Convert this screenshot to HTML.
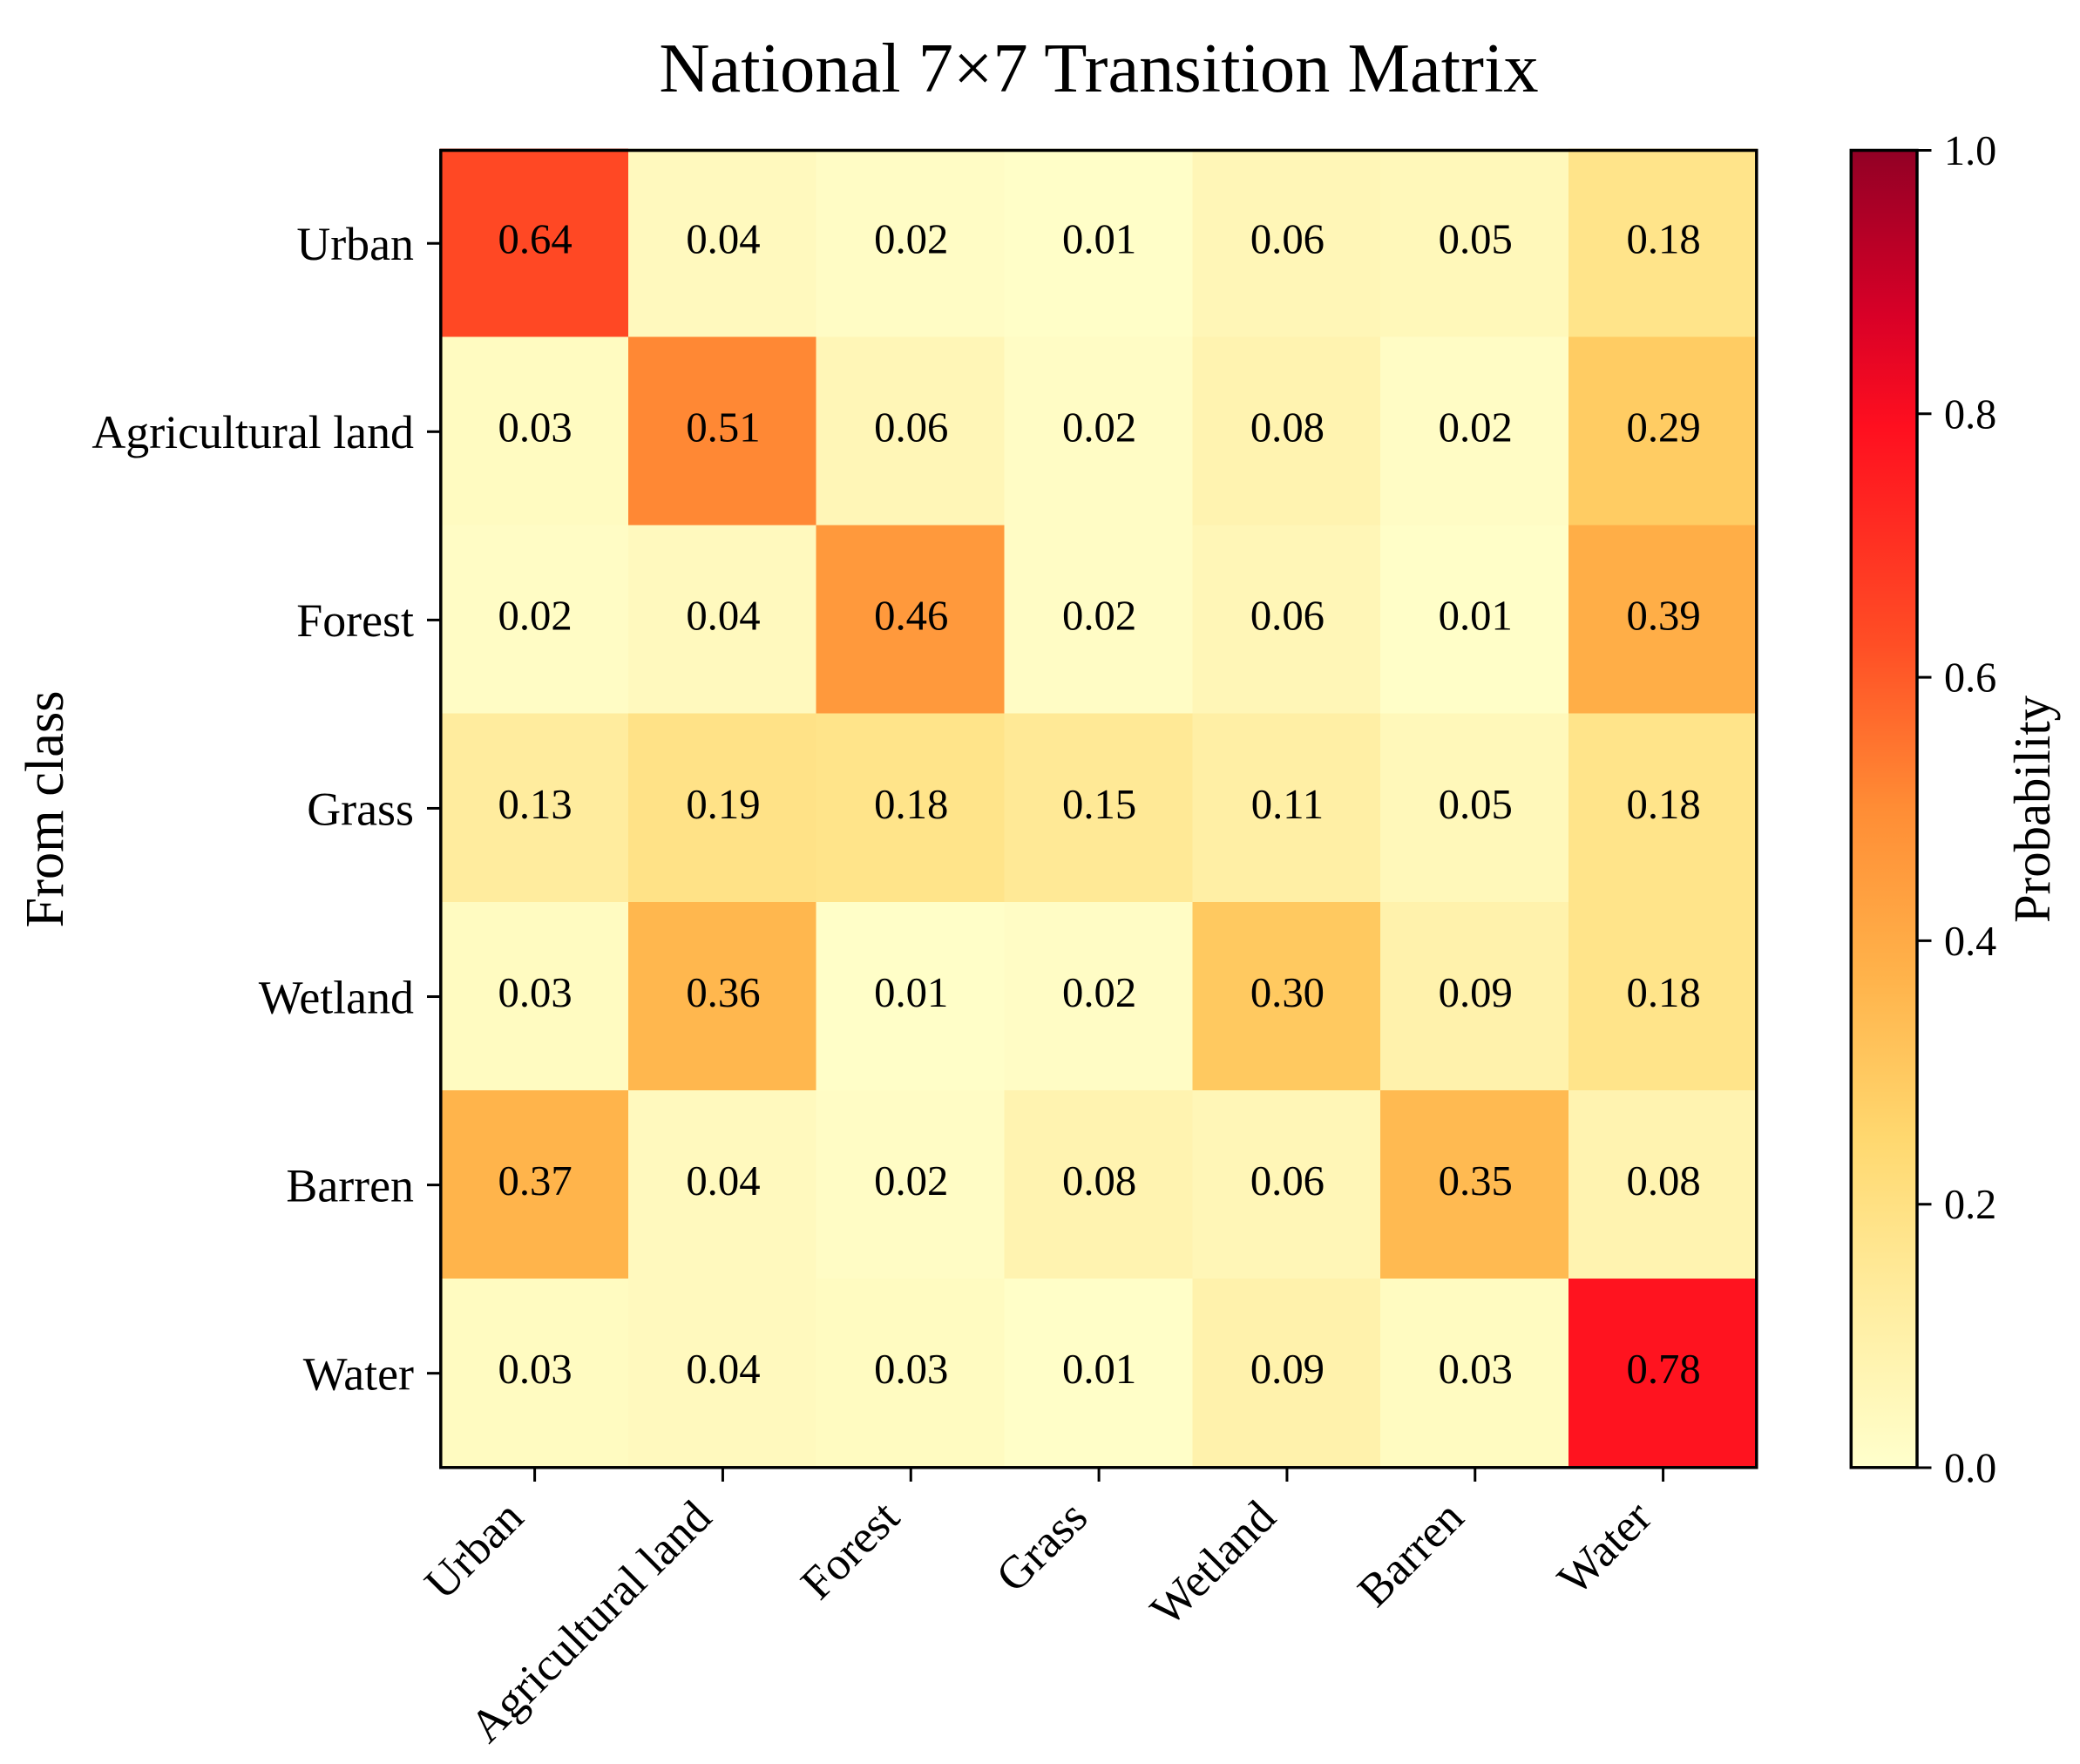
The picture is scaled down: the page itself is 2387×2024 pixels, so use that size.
<!DOCTYPE html>
<html lang="en">
<head>
<meta charset="utf-8">
<title>National 7×7 Transition Matrix</title>
<style>
  html, body { margin: 0; padding: 0; background: #ffffff; }
  svg { display: block; }
  text { font-family: "Liberation Serif", "Times New Roman", serif; fill: #000000; }
</style>
</head>
<body>
<svg id="chart" xmlns="http://www.w3.org/2000/svg" width="2387" height="2024" viewBox="0 0 2387 2024">
  <rect x="0" y="0" width="2387" height="2024" fill="#ffffff"/>
  <text x="1261" y="105" font-size="80.5" text-anchor="middle">National 7×7 Transition Matrix</text>
  <text transform="translate(72,928.5) rotate(-90)" font-size="62" text-anchor="middle" textLength="272" lengthAdjust="spacingAndGlyphs">From class</text>
  <text transform="translate(2352,928.5) rotate(-90)" font-size="59" text-anchor="middle" textLength="261" lengthAdjust="spacingAndGlyphs">Probability</text>
  <defs>
    <linearGradient id="colorbar-gradient" x1="0" y1="1" x2="0" y2="0"></linearGradient>
  </defs>
  <g id="heatmap"></g>
  <g id="cell-labels"></g>
  <rect x="505.8" y="172.5" width="1510" height="1511.3" fill="none" stroke="#000000" stroke-width="3.5"/>
  <g id="x-axis"></g>
  <g id="y-axis"></g>
  <rect id="colorbar-fill" x="2124.3" y="172.5" width="75.7" height="1511.3" fill="url(#colorbar-gradient)" stroke="#000000" stroke-width="3.5"/>
  <g id="colorbar-axis"></g>
</svg>
<script>
const classes = ["Urban", "Agricultural land", "Forest", "Grass", "Wetland", "Barren", "Water"];
const rowUrban = [0.64, 0.04, 0.02, 0.01, 0.06, 0.05, 0.18];
const rowAgricultural = [0.03, 0.51, 0.06, 0.02, 0.08, 0.02, 0.29];
const rowForest = [0.02, 0.04, 0.46, 0.02, 0.06, 0.01, 0.39];
const rowGrass = [0.13, 0.19, 0.18, 0.15, 0.11, 0.05, 0.18];
const rowWetland = [0.03, 0.36, 0.01, 0.02, 0.30, 0.09, 0.18];
const rowBarren = [0.37, 0.04, 0.02, 0.08, 0.06, 0.35, 0.08];
const rowWater = [0.03, 0.04, 0.03, 0.01, 0.09, 0.03, 0.78];
const matrix = [rowUrban, rowAgricultural, rowForest, rowGrass, rowWetland, rowBarren, rowWater];
const colorbarTicks = [0.0, 0.2, 0.4, 0.6, 0.8, 1.0];
const colormapStops = [0, 0.125, 0.25, 0.375, 0.5, 0.625, 0.79, 0.875, 1];
const colormapColors = ["#ffffcc", "#ffeda0", "#ffd86f", "#ffb24a", "#ff8d35", "#ff4e25", "#ff0f1f", "#d80027", "#920025"];

const SVG_NS = "http://www.w3.org/2000/svg";
const plot = { left: 505, right: 2015.8, top: 170.5, bottom: 1683 };
const bar = { right: 2200, tickEnd: 2216.5, labelX: 2231, top: 172.5, bottom: 1684 };
const TICK_LEN = 16;

const cellWidth = (plot.right - plot.left) / classes.length;
const cellHeight = (plot.bottom - plot.top) / classes.length;
const colLeft = i => plot.left + i * cellWidth;
const rowTop = i => plot.top + i * cellHeight;
const colCenter = i => colLeft(i) + cellWidth / 2;
const rowCenter = i => rowTop(i) + cellHeight / 2;
const barY = v => bar.bottom - v * (bar.bottom - bar.top);

function hexToRgb(hex) {
  return [1, 3, 5].map(p => parseInt(hex.slice(p, p + 2), 16));
}
function colorFor(v) {
  const x = Math.max(0, Math.min(1, v));
  let i = 0;
  while (i < colormapStops.length - 2 && x > colormapStops[i + 1]) i++;
  const a = hexToRgb(colormapColors[i]);
  const b = hexToRgb(colormapColors[i + 1]);
  const f = (x - colormapStops[i]) / (colormapStops[i + 1] - colormapStops[i]);
  const c = a.map((n, k) => Math.round(n + (b[k] - n) * f));
  return "rgb(" + c.join(",") + ")";
}
function make(tag, attrs, parent, content) {
  const el = document.createElementNS(SVG_NS, tag);
  Object.keys(attrs).forEach(k => el.setAttribute(k, attrs[k]));
  if (content !== undefined) el.textContent = content;
  parent.appendChild(el);
  return el;
}
function slug(s) {
  return s.toLowerCase().replace(/\s+/g, "-");
}

const heatmap = document.getElementById("heatmap");
const cellLabels = document.getElementById("cell-labels");
const xAxis = document.getElementById("x-axis");
const yAxis = document.getElementById("y-axis");
const colorbarAxis = document.getElementById("colorbar-axis");
const gradient = document.getElementById("colorbar-gradient");

matrix.forEach((row, r) => {
  row.forEach((value, c) => {
    const cell = make("rect", {
      x: colLeft(c), y: rowTop(r), width: cellWidth + 0.5, height: cellHeight + 0.5,
      fill: colorFor(value), "shape-rendering": "crispEdges"
    }, heatmap);
    
    
    const label = make("text", {
      x: colCenter(c) + 1.2, y: rowCenter(r) + 12, "font-size": 48.7, "text-anchor": "middle"
    }, cellLabels, value.toFixed(2));
    
    
  });
});

classes.forEach((name, i) => {
  const xTick = make("line", {
    x1: colCenter(i) + 0.7, x2: colCenter(i) + 0.7, y1: plot.bottom + 1, y2: plot.bottom + 1 + TICK_LEN,
    stroke: "#000", "stroke-width": 3
  }, xAxis);
  
  
  const xLabel = make("text", {
    transform: "translate(" + (colCenter(i) - 9.7) + "," + (plot.bottom + 61) + ") rotate(-45)",
    "font-size": 53.2, "text-anchor": "end"
  }, xAxis, name);
  
  

  const yTick = make("line", {
    x1: plot.left - TICK_LEN + 1, x2: plot.left + 1, y1: rowCenter(i) + 0.7, y2: rowCenter(i) + 0.7,
    stroke: "#000", "stroke-width": 3
  }, yAxis);
  
  
  const yLabel = make("text", {
    x: plot.left - 30, y: rowCenter(i) + 19.5, "font-size": 53.9, "text-anchor": "end"
  }, yAxis, name);
  
  
});

colormapColors.forEach((color, i) => {
  make("stop", { offset: colormapStops[i], "stop-color": color }, gradient);
});

colorbarTicks.forEach(v => {
  const tick = make("line", {
    x1: bar.right, x2: bar.tickEnd, y1: barY(v), y2: barY(v),
    stroke: "#000", "stroke-width": 3
  }, colorbarAxis);
  
  
  const tickLabel = make("text", {
    x: bar.labelX, y: barY(v) + 16.5, "font-size": 48.2
  }, colorbarAxis, v.toFixed(1));
  
  
});
</script>
</body>
</html>
